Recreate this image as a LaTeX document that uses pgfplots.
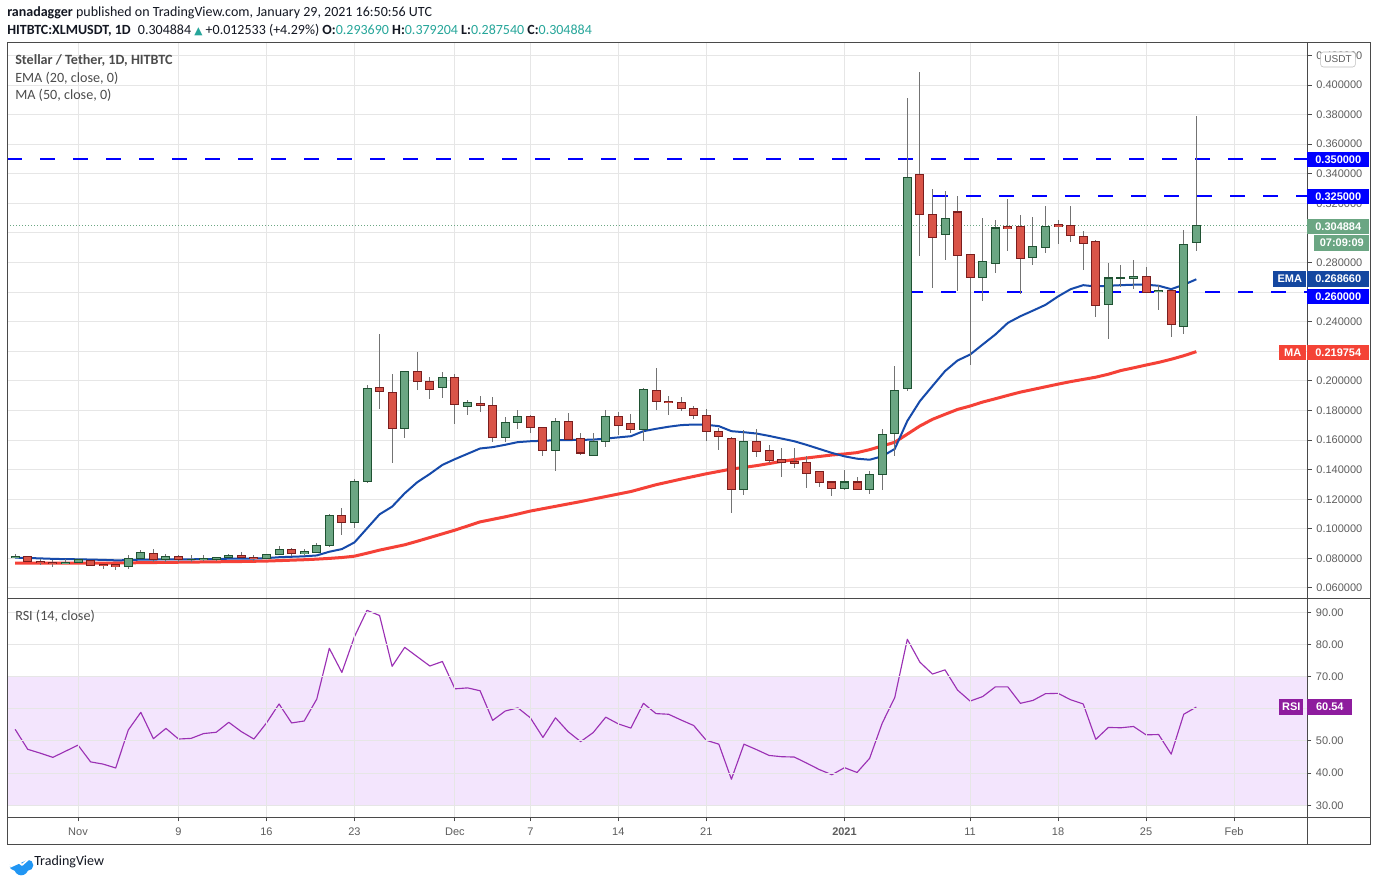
\documentclass[border=0pt]{standalone}
\usepackage{pgfplots}
\pgfplotsset{compat=1.18}
\usepackage{pgfplotstable}
\usepackage{fontspec}
\setmainfont{Liberation Sans}
\newfontfamily\carl{Carlito}
\newfontfamily\dejavu{DejaVu Sans}
\definecolor{upf}{HTML}{6BA683}
\definecolor{upb}{HTML}{1F5232}
\definecolor{dnf}{HTML}{D95448}
\definecolor{dnb}{HTML}{7A1E1E}
\definecolor{wickc}{HTML}{737373}
\definecolor{emac}{HTML}{164AAA}
\definecolor{emab}{HTML}{1447A0}
\definecolor{mac}{HTML}{F54137}
\definecolor{mab}{HTML}{F44336}
\definecolor{lvl}{HTML}{0000FF}
\definecolor{gridc}{HTML}{E6E6E6}
\definecolor{tickc}{HTML}{5D5D5D}
\definecolor{axc}{HTML}{4A4A4A}
\definecolor{rsil}{HTML}{9B30B4}
\definecolor{rsif}{HTML}{F3E5FD}
\definecolor{rsid}{HTML}{B9A3C2}
\definecolor{rsib}{HTML}{8E1C9E}
\definecolor{tv}{HTML}{26A69A}
\definecolor{hdr}{HTML}{131722}
\definecolor{legc}{HTML}{4C4C4C}
\definecolor{logo}{HTML}{2196F3}
\newcommand\fa{\fontsize{8.25}{9.5}\selectfont}

\pgfplotstableread{
d o h l c
-5 0.0807 0.0829 0.0801 0.0815
-1 0.0764 0.0793 0.0763 0.0775
0 0.0771 0.0795 0.0768 0.0789
4 0.0746 0.0822 0.0728 0.0800
5 0.0800 0.0856 0.0800 0.0840
7 0.0793 0.0829 0.0777 0.0813
9 0.0793 0.0822 0.0777 0.0794
10 0.0793 0.0822 0.0780 0.0800
11 0.0793 0.0811 0.0780 0.0807
12 0.0807 0.0829 0.0802 0.0820
15 0.0800 0.0829 0.0798 0.0827
16 0.0827 0.0885 0.0825 0.0861
18 0.0834 0.0863 0.0816 0.0843
19 0.0840 0.0902 0.0835 0.0888
20 0.0888 0.1099 0.0879 0.1090
22 0.1043 0.1334 0.1005 0.1320
23 0.1320 0.1975 0.1307 0.1948
26 0.1678 0.2066 0.1617 0.2063
29 0.1955 0.2059 0.1885 0.2023
31 0.1827 0.1874 0.1770 0.1854
34 0.1617 0.1759 0.1590 0.1719
35 0.1717 0.1803 0.1676 0.1758
38 0.1529 0.1751 0.1388 0.1724
41 0.1499 0.1649 0.1499 0.1590
42 0.1588 0.1801 0.1551 0.1758
45 0.1669 0.1950 0.1592 0.1941
53 0.1268 0.1665 0.1230 0.1588
61 0.1275 0.1400 0.1259 0.1316
63 0.1268 0.1393 0.1236 0.1366
64 0.1370 0.1672 0.1264 0.1636
65 0.1642 0.2100 0.1495 0.1934
66 0.1947 0.3912 0.1929 0.3377
69 0.2992 0.3285 0.2815 0.3100
72 0.2702 0.3103 0.2538 0.2804
73 0.2797 0.3089 0.2729 0.3033
76 0.2837 0.3110 0.2781 0.2905
77 0.2905 0.3185 0.2862 0.3041
82 0.2519 0.2799 0.2281 0.2695
83 0.2690 0.2785 0.2634 0.2695
84 0.2695 0.2819 0.2620 0.2708
86 0.2604 0.2650 0.2482 0.2613
88 0.2369 0.3023 0.2320 0.2924
89 0.2937 0.3792 0.2875 0.3049
}\upc

\pgfplotstableread{
d o h l c
-4 0.0813 0.0819 0.0773 0.0777
-3 0.0780 0.0793 0.0753 0.0771
-2 0.0775 0.0790 0.0739 0.0764
1 0.0786 0.0789 0.0752 0.0753
2 0.0760 0.0762 0.0728 0.0753
3 0.0758 0.0760 0.0721 0.0746
6 0.0834 0.0863 0.0775 0.0793
8 0.0813 0.0820 0.0775 0.0793
13 0.0820 0.0840 0.0802 0.0807
14 0.0807 0.0820 0.0780 0.0798
17 0.0861 0.0869 0.0816 0.0834
21 0.1090 0.1144 0.0960 0.1043
24 0.1955 0.2316 0.1811 0.1928
25 0.1921 0.2045 0.1446 0.1678
27 0.2063 0.2194 0.1940 0.1996
28 0.1996 0.2023 0.1879 0.1942
30 0.2023 0.2045 0.1710 0.1840
32 0.1847 0.1901 0.1791 0.1834
33 0.1834 0.1888 0.1590 0.1617
36 0.1758 0.1767 0.1649 0.1683
37 0.1683 0.1690 0.1490 0.1529
39 0.1724 0.1780 0.1601 0.1601
40 0.1613 0.1649 0.1497 0.1513
43 0.1758 0.1789 0.1631 0.1696
44 0.1710 0.1773 0.1649 0.1669
46 0.1934 0.2086 0.1803 0.1860
47 0.1860 0.1896 0.1769 0.1853
48 0.1853 0.1889 0.1796 0.1812
49 0.1812 0.1830 0.1742 0.1764
50 0.1764 0.1807 0.1592 0.1656
51 0.1656 0.1683 0.1531 0.1622
52 0.1608 0.1622 0.1109 0.1268
54 0.1588 0.1678 0.1483 0.1526
55 0.1526 0.1569 0.1443 0.1465
56 0.1465 0.1549 0.1347 0.1452
57 0.1452 0.1549 0.1409 0.1445
58 0.1445 0.1490 0.1279 0.1377
59 0.1384 0.1393 0.1286 0.1316
60 0.1316 0.1325 0.1225 0.1275
62 0.1316 0.1347 0.1268 0.1268
67 0.3397 0.4088 0.2842 0.3127
68 0.3121 0.3298 0.2626 0.2972
70 0.3141 0.3251 0.2606 0.2851
71 0.2851 0.2851 0.2109 0.2702
74 0.3040 0.3231 0.2876 0.3031
75 0.3040 0.3123 0.2585 0.2830
78 0.3054 0.3090 0.2928 0.3045
79 0.3047 0.3185 0.2937 0.2980
80 0.2973 0.3016 0.2747 0.2930
81 0.2939 0.2950 0.2435 0.2512
85 0.2708 0.2772 0.2600 0.2600
87 0.2613 0.2613 0.2299 0.2383
}\dnc

\newcommand{\candles}[3]{%
\addplot[forget plot, no markers, draw=none, error bars/.cd, y dir=both, y explicit, error mark=none,
  error bar style={draw=wickc, line width=0.75pt}]
  table[x=d, y expr={(\thisrow{h}+\thisrow{l})/2}, y error expr={(\thisrow{h}-\thisrow{l})/2}] {#1};
\addplot[forget plot, no markers, draw=none, error bars/.cd, y dir=both, y explicit, error mark=none,
  error bar style={draw=#2, line width=6.75pt}]
  table[x=d, y expr={(\thisrow{o}+\thisrow{c})/2}, y error expr={abs(\thisrow{c}-\thisrow{o})/2+0.0004}] {#1};
\addplot[forget plot, no markers, draw=none, error bars/.cd, y dir=both, y explicit, error mark=none,
  error bar style={draw=#3, line width=5.25pt}]
  table[x=d, y expr={(\thisrow{o}+\thisrow{c})/2}, y error expr={max(abs(\thisrow{c}-\thisrow{o})/2-0.0003,0)}] {#1};
}

\begin{document}
\begin{tikzpicture}
\path[use as bounding box, fill=white] (0,0) rectangle (1032pt,660.75pt);

% ---------------- main price panel ----------------
\begin{axis}[
  at={(5.25pt,628.5pt)}, anchor=north west,
  scale only axis, width=975pt, height=417pt,
  xmin=-5.651, xmax=97.81, ymin=0.05256, ymax=0.4284,
  axis line style={draw=none},
  xtick={0,8,15,22,30,36,43,50,61,71,78,85,92}, xticklabels={},
  xtick style={draw=none},
  ytick={0.06,0.08,0.10,0.12,0.14,0.16,0.18,0.20,0.22,0.24,0.26,0.28,0.30,0.32,0.34,0.36,0.38,0.40,0.42},
  yticklabels={0.060000,0.080000,0.100000,0.120000,0.140000,0.160000,0.180000,0.200000,,0.240000,,0.280000,,0.320000,0.340000,0.360000,0.380000,0.400000,0.420000},
  ytick pos=right, yticklabel pos=right, tick align=outside,
  ytick style={draw=axc, line width=0.75pt}, major tick length=3.5pt,
  yticklabel style={font=\fa, text=tickc},
  grid=major, major grid style={draw=gridc, line width=0.75pt},
]
\addplot[forget plot, draw=upf, line width=0.75pt, dash pattern=on 0.75pt off 1.5pt] coordinates {(-5.651,0.304884) (97.81,0.304884)};
\addplot[forget plot, draw=lvl, line width=2pt, dash pattern=on 11.25pt off 13.5pt] coordinates {(-5.651,0.35) (97.81,0.35)};
\addplot[forget plot, draw=lvl, line width=2pt, dash pattern=on 11.25pt off 13.5pt] coordinates {(68.07,0.325) (97.81,0.325)};
\addplot[forget plot, draw=lvl, line width=2pt, dash pattern=on 11.25pt off 13.5pt] coordinates {(66.08,0.26) (97.81,0.26)};

\addplot[forget plot, draw=mac, line width=2.25pt, line join=round] coordinates {
(-5,0.0768)(-2,0.0768)(0,0.0768)(3,0.0769)(5,0.0771)(8,0.0774)(10,0.0776)(13,0.0779)(15,0.0782)(17,0.0788)(18,0.0791)(19,0.0795)(20,0.0800)(21,0.0806)(22,0.0815)(23,0.0835)(24,0.0856)(25,0.0874)(26,0.0892)(27,0.0916)(28,0.0941)(29,0.0966)(30,0.0991)(31,0.1019)(32,0.1047)(33,0.1064)(34,0.1081)(35,0.1100)(36,0.1120)(37,0.1136)(38,0.1152)(39,0.1168)(40,0.1184)(41,0.1201)(42,0.1218)(43,0.1235)(44,0.1252)(45,0.1275)(46,0.1298)(47,0.1317)(48,0.1336)(49,0.1354)(50,0.1372)(51,0.1388)(52,0.1404)(53,0.1415)(54,0.1427)(55,0.1441)(56,0.1456)(57,0.1468)(58,0.1479)(59,0.1489)(60,0.1499)(61,0.1506)(62,0.1515)(63,0.1535)(64,0.1560)(65,0.1585)(66,0.1640)(67,0.1695)(68,0.1740)(69,0.1774)(70,0.1807)(71,0.1830)(72,0.1857)(73,0.1879)(74,0.1902)(75,0.1924)(76,0.1942)(77,0.1960)(78,0.1978)(79,0.1995)(80,0.2010)(81,0.2025)(82,0.2045)(83,0.2070)(84,0.2088)(85,0.2107)(86,0.2125)(87,0.2146)(88,0.2170)(89,0.219754)};

\addplot[forget plot, draw=emac, line width=1.5pt, line join=round] coordinates {
(-5,0.0805)(-4,0.0803)(-3,0.0800)(-2,0.0797)(-1,0.0795)(0,0.0794)(1,0.0792)(2,0.0790)(3,0.0787)(4,0.0788)(5,0.0792)(6,0.0792)(7,0.0794)(8,0.0794)(9,0.0794)(10,0.0795)(11,0.0796)(12,0.0798)(13,0.0799)(14,0.0799)(15,0.0802)(16,0.0808)(17,0.0811)(18,0.0814)(19,0.0820)(20,0.0845)(21,0.0863)(22,0.0908)(23,0.1003)(24,0.1098)(25,0.1150)(26,0.1240)(27,0.1315)(28,0.1371)(29,0.1432)(30,0.1471)(31,0.1507)(32,0.1543)(33,0.1552)(34,0.1568)(35,0.1586)(36,0.1592)(37,0.1595)(38,0.1599)(39,0.1600)(40,0.1601)(41,0.1603)(42,0.1610)(43,0.1618)(44,0.1626)(45,0.1660)(46,0.1676)(47,0.1690)(48,0.1701)(49,0.1705)(50,0.1703)(51,0.1694)(52,0.1660)(53,0.1653)(54,0.1644)(55,0.1628)(56,0.1610)(57,0.1592)(58,0.1567)(59,0.1540)(60,0.1513)(61,0.1490)(62,0.1474)(63,0.1467)(64,0.1490)(65,0.1540)(66,0.1729)(67,0.1863)(68,0.1965)(69,0.2066)(70,0.2138)(71,0.2178)(72,0.2246)(73,0.2313)(74,0.2392)(75,0.2437)(76,0.2475)(77,0.2514)(78,0.2571)(79,0.2620)(80,0.2647)(81,0.2638)(82,0.2643)(83,0.2647)(84,0.2650)(85,0.2650)(86,0.2643)(87,0.2620)(88,0.2650)(89,0.26866)};

\candles{\upc}{upb}{upf}
\candles{\dnc}{dnb}{dnf}
\end{axis}

% ---------------- RSI panel ----------------
\begin{axis}[
  at={(5.25pt,211.5pt)}, anchor=north west,
  scale only axis, width=975pt, height=163.5pt,
  xmin=-5.651, xmax=97.81, ymin=26.36, ymax=94.13,
  axis line style={draw=none}, axis on top,
  xtick={0,8,15,22,30,36,43,50,61,71,78,85,92},
  xticklabels={Nov,9,16,23,Dec,7,14,21,\textbf{2021},11,18,25,Feb},
  xtick pos=bottom, ytick pos=right, yticklabel pos=right, tick align=outside,
  xtick style={draw=axc, line width=0.75pt}, ytick style={draw=axc, line width=0.75pt},
  major tick length=3.2pt,
  ytick={30,40,50,60,70,80,90},
  yticklabels={30.00,40.00,50.00,,70.00,80.00,90.00},
  yticklabel style={font=\fa, text=tickc},
  xticklabel style={font=\fa, text=tickc, yshift=-1.5pt},
  grid=major, major grid style={draw=gridc, line width=0.75pt},
]
\addplot[forget plot, draw=none, fill=rsif] coordinates {(-5.651,30) (97.81,30) (97.81,70) (-5.651,70)} -- cycle;
\addplot[forget plot, draw=rsid, line width=0.75pt, dash pattern=on 3pt off 3pt] coordinates {(-5.651,70) (97.81,70)};
\addplot[forget plot, draw=rsid, line width=0.75pt, dash pattern=on 3pt off 3pt] coordinates {(-5.651,30) (97.81,30)};
\addplot[forget plot, draw=rsil, line width=0.85pt, line join=round] coordinates {
(-5,53.6)(-4,47.4)(-3,46.2)(-2,44.9)(-1,46.8)(0,48.7)(1,43.5)(2,42.8)(3,41.6)(4,53.4)(5,58.9)(6,50.7)(7,53.9)(8,50.6)(9,50.8)(10,52.3)(11,52.7)(12,55.8)(13,52.9)(14,50.6)(15,55.6)(16,61.5)(17,55.6)(18,56.2)(19,63.0)(20,78.8)(21,71.3)(22,82.4)(23,90.6)(24,89.0)(25,73.2)(26,79.1)(27,76.2)(28,73.3)(29,74.7)(30,66.2)(31,66.5)(32,65.6)(33,56.4)(34,59.3)(35,60.3)(36,57.2)(37,51.1)(38,57.2)(39,52.9)(40,49.8)(41,52.6)(42,57.4)(43,55.3)(44,54.0)(45,61.7)(46,58.5)(47,58.3)(48,56.5)(49,54.8)(50,50.2)(51,49.0)(52,38.1)(53,49.0)(54,47.3)(55,45.5)(56,45.1)(57,45.0)(58,43.1)(59,41.1)(60,39.5)(61,41.7)(62,40.2)(63,44.6)(64,55.5)(65,63.5)(66,81.6)(67,74.5)(68,70.8)(69,72.1)(70,65.8)(71,62.4)(72,63.8)(73,66.8)(74,66.8)(75,61.7)(76,62.6)(77,64.7)(78,64.8)(79,62.8)(80,61.5)(81,50.5)(82,54.2)(83,54.1)(84,54.5)(85,51.9)(86,52.0)(87,45.9)(88,58.3)(89,60.54)};
\end{axis}

% ---------------- frame, header, labels (pixel coordinates) ----------------
\begin{scope}[x=0.75pt, y=-0.75pt, shift={(0pt,660.75pt)}]
\draw[axc, line width=0.75pt] (7,43) rectangle (1370,844);
\draw[axc, line width=0.75pt] (7,599) -- (1370,599);
\draw[axc, line width=0.75pt] (7,817) -- (1370,817);
\draw[axc, line width=0.75pt] (1307,43) -- (1307,844);

\node[anchor=west, inner sep=0, text=hdr] at (7,13) {\carl\fontsize{10.5}{12}\selectfont\textbf{ranadagger} published on TradingView.com, January 29, 2021 16:50:56 UTC};
\node[anchor=west, inner sep=0, text=hdr] at (7,30) {\carl\fontsize{10.5}{12}\selectfont\textbf{HITBTC:XLMUSDT, 1D}\hspace{3pt} 0.304884 {\color{tv}\dejavu\fontsize{8}{8}\selectfont ▲} +0.012533 (+4.29\%) \textbf{O:}{\color{tv}0.293690} \textbf{H:}{\color{tv}0.379204} \textbf{L:}{\color{tv}0.287540} \textbf{C:}{\color{tv}0.304884}};

\node[anchor=west, inner sep=0, text=legc] at (15,61) {\carl\fontsize{10.6}{12}\selectfont\textbf{Stellar / Tether, 1D, HITBTC}};
\node[anchor=west, inner sep=0, text=legc] at (15,78) {\carl\fontsize{10.6}{12}\selectfont EMA (20, close, 0)};
\node[anchor=west, inner sep=0, text=legc] at (15,95) {\carl\fontsize{10.6}{12}\selectfont MA (50, close, 0)};
\node[anchor=west, inner sep=0, text=legc] at (15,616) {\carl\fontsize{10.6}{12}\selectfont RSI (14, close)};

% right-axis value boxes
\tikzset{vbox/.style={anchor=west, inner sep=0, minimum height=11.5pt, text=white, font=\fa\bfseries}}
\node[vbox, fill=lvl, minimum width=46.5pt] at (1307,159.5) {0.350000};
\node[vbox, fill=lvl, minimum width=46.5pt] at (1307,196.3) {0.325000};
\node[vbox, fill=upf, minimum width=46.5pt] at (1307,226.3) {0.304884};
\node[vbox, fill=upf, minimum width=41.25pt] at (1314,243) {07:09:09};
\node[vbox, fill=emab, minimum width=24.75pt] at (1273,279) {EMA};
\node[vbox, fill=emab, minimum width=46.5pt] at (1307,279) {0.268660};
\node[vbox, fill=lvl, minimum width=46.5pt] at (1307,296.3) {0.260000};
\node[vbox, fill=mab, minimum width=20.25pt] at (1279,352.3) {MA};
\node[vbox, fill=mab, minimum width=46.5pt] at (1307,352.3) {0.219754};
\node[vbox, fill=rsib, minimum width=18pt] at (1279,707) {RSI};
\node[vbox, fill=rsib, minimum width=33.75pt] at (1307,707) {60.54};

\node[draw=gridc!60!gray, fill=white, rounded corners=2pt, inner sep=0, minimum width=26pt, minimum height=11.25pt, text=tickc, font=\fontsize{7.5}{8}\selectfont] at (1338,59.5) {USDT};

% TradingView logo
\fill[logo] (10,868) -- (10,864) arc[start angle=200, end angle=90, radius=5] arc[start angle=160, end angle=20, radius=7] arc[start angle=90, end angle=-90, radius=5.5] -- cycle;
\draw[white, line width=1.3pt, line join=round] (9,866) -- (16,860) -- (22,865) -- (31,857);
\node[anchor=west, inner sep=0, text=hdr] at (34,862) {\carl\fontsize{10.5}{12}\selectfont TradingView};
\end{scope}
\end{tikzpicture}
\end{document}
